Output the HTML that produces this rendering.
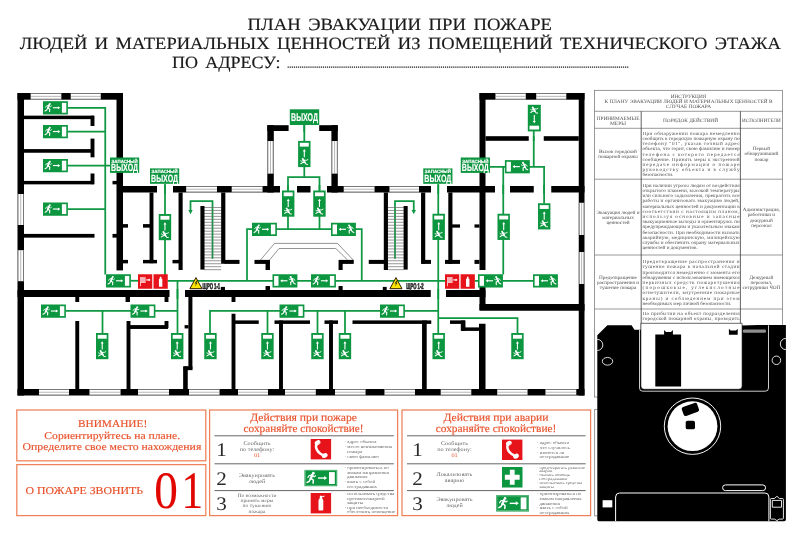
<!DOCTYPE html>
<html lang="ru"><head><meta charset="utf-8"><title>План эвакуации при пожаре</title>
<style>html,body{margin:0;padding:0;background:#fff}body{width:800px;height:533px;overflow:hidden}svg{display:block;text-rendering:geometricPrecision;will-change:transform}text{font-family:"Liberation Serif","DejaVu Serif",serif}.sb{font-family:"Liberation Sans","DejaVu Sans",sans-serif;font-weight:bold;fill:#fff;stroke:#fff;stroke-width:0.18px}.ss{font-family:"Liberation Sans","DejaVu Sans",sans-serif;font-weight:bold}.t{fill:#1a1a1a}.o{fill:#e8502a}.g{fill:#555}</style></head><body>
<svg width="800" height="533" viewBox="0 0 800 533">
<rect x="0" y="0" width="800" height="533" fill="#fff"/>
<g class="t" font-size="17.1" stroke="#1a1a1a" stroke-width="0.16" word-spacing="2.6">
<text x="247.6" y="30.4" textLength="304.4" lengthAdjust="spacingAndGlyphs">ПЛАН ЭВАКУАЦИИ ПРИ ПОЖАРЕ</text>
<text x="19.8" y="49.4" textLength="761" lengthAdjust="spacingAndGlyphs">ЛЮДЕЙ И МАТЕРИАЛЬНЫХ ЦЕННОСТЕЙ ИЗ ПОМЕЩЕНИЙ ТЕХНИЧЕСКОГО ЭТАЖА</text>
<text x="172" y="68.4" textLength="108.4" lengthAdjust="spacingAndGlyphs">ПО АДРЕСУ:</text>
</g>
<path d="M287.6,67.2 H628.4" stroke="#1a1a1a" stroke-width="1.3" stroke-dasharray="1.22 0.85" fill="none"/>
<g id="plan">
<polyline points="67.75,107.8 105.25,107.8 105.25,274.5" fill="none" stroke="#0f9842" stroke-width="1.75"/>
<polyline points="67.75,131.5 105.25,131.5" fill="none" stroke="#0f9842" stroke-width="1.75"/>
<polyline points="67.75,165.5 110,165.5" fill="none" stroke="#0f9842" stroke-width="1.75"/>
<polyline points="67.75,209 105.25,209" fill="none" stroke="#0f9842" stroke-width="1.75"/>
<polyline points="165,183.75 165,280.75" fill="none" stroke="#0f9842" stroke-width="1.75"/>
<polyline points="130.75,280.75 138,280.75" fill="none" stroke="#0f9842" stroke-width="1.75"/>
<polyline points="167.5,280.75 445,280.75" fill="none" stroke="#0f9842" stroke-width="1.75"/>
<polyline points="475,280.75 533,280.75" fill="none" stroke="#0f9842" stroke-width="1.75"/>
<polyline points="177.5,280.75 177.5,333" fill="none" stroke="#0f9842" stroke-width="1.75"/>
<polyline points="65.75,310.75 177.5,310.75" fill="none" stroke="#0f9842" stroke-width="1.75"/>
<polyline points="102.5,310.75 102.5,333" fill="none" stroke="#0f9842" stroke-width="1.75"/>
<polyline points="304.3,124 304.3,177" fill="none" stroke="#0f9842" stroke-width="1.75"/>
<polyline points="288,190.5 288,177 319.5,177 319.5,190.5" fill="none" stroke="#0f9842" stroke-width="1.75"/>
<polyline points="288,216 288,229" fill="none" stroke="#0f9842" stroke-width="1.75"/>
<polyline points="319.5,216 319.5,229" fill="none" stroke="#0f9842" stroke-width="1.75"/>
<polyline points="247,280.75 247,229 361.75,229 361.75,280.75" fill="none" stroke="#0f9842" stroke-width="1.75"/>
<polyline points="210,333 210,310.75 438.25,310.75" fill="none" stroke="#0f9842" stroke-width="1.75"/>
<polyline points="267.5,310.75 267.5,333" fill="none" stroke="#0f9842" stroke-width="1.75"/>
<polyline points="317.5,310.75 317.5,333" fill="none" stroke="#0f9842" stroke-width="1.75"/>
<polyline points="345,310.75 345,333" fill="none" stroke="#0f9842" stroke-width="1.75"/>
<polyline points="438.25,183.75 438.25,333" fill="none" stroke="#0f9842" stroke-width="1.75"/>
<polyline points="438.25,318 517.5,318 517.5,333" fill="none" stroke="#0f9842" stroke-width="1.75"/>
<polyline points="533.75,131 533.75,166.75" fill="none" stroke="#0f9842" stroke-width="1.75"/>
<polyline points="489.5,166.75 544.1,166.75 544.1,203.5" fill="none" stroke="#0f9842" stroke-width="1.75"/>
<polyline points="503.25,166.75 503.25,274.5" fill="none" stroke="#0f9842" stroke-width="1.75"/>
<polyline points="212.5,258.75 212.5,201 190.5,201 190.5,210" fill="none" stroke="#0f9842" stroke-width="1.75"/>
<polyline points="395,258.75 395,201 413.75,201 413.75,210" fill="none" stroke="#0f9842" stroke-width="1.75"/>
<path d="M190.5,214.2 l-2.2,-4.2 h4.4z" fill="#0f9842"/>
<path d="M413.75,214.2 l-2.2,-4.2 h4.4z" fill="#0f9842"/>
<path d="M204,207.5 H221.2 M204,210.46 H221.2 M204,213.42 H221.2 M204,216.38 H221.2 M204,219.34 H221.2 M204,222.3 H221.2 M204,225.26 H221.2 M204,228.22 H221.2 M204,231.18 H221.2 M204,234.14 H221.2 M204,237.1 H221.2 M204,240.06 H221.2 M204,243.02 H221.2 M204,245.98 H221.2 M204,248.94 H221.2 M204,251.9 H221.2 M204,254.86 H221.2 M204,257.82 H221.2 M204,260.78 H221.2 M204,263.74 H221.2 M204,266.7 H221.2 M204,269.66 H221.2" stroke="#6a6a6a" stroke-width="0.7" fill="none"/>
<path d="M387.6,207.5 H403.9 M387.6,210.46 H403.9 M387.6,213.42 H403.9 M387.6,216.38 H403.9 M387.6,219.34 H403.9 M387.6,222.3 H403.9 M387.6,225.26 H403.9 M387.6,228.22 H403.9 M387.6,231.18 H403.9 M387.6,234.14 H403.9 M387.6,237.1 H403.9 M387.6,240.06 H403.9 M387.6,243.02 H403.9 M387.6,245.98 H403.9 M387.6,248.94 H403.9 M387.6,251.9 H403.9 M387.6,254.86 H403.9 M387.6,257.82 H403.9 M387.6,260.78 H403.9 M387.6,263.74 H403.9 M387.6,266.7 H403.9 M387.6,269.66 H403.9" stroke="#6a6a6a" stroke-width="0.7" fill="none"/>
<rect x="200.4" y="206" width="4.1" height="63.6" fill="#000"/>
<rect x="403.6" y="206" width="4.1" height="63.6" fill="#000"/>
<path d="M260.5,260 L274.5,243.4 H337.5 L353.2,260 M269.5,260 L279,248.5 H335.8 L347.6,260" stroke="#666" stroke-width="0.7" fill="none"/>
<rect x="17.5" y="93" width="105.5" height="6.7" fill="#000"/>
<rect x="17.5" y="93" width="6.5" height="302.5" fill="#000"/>
<rect x="116.5" y="93" width="6.5" height="177.4" fill="#000"/>
<rect x="24" y="115.65" width="70" height="3.5" fill="#000"/>
<rect x="90.55" y="115.75" width="3.9" height="10.25" fill="#000"/>
<rect x="24" y="149.1" width="70" height="3.65" fill="#000"/>
<rect x="90.55" y="138.6" width="3.9" height="18.7" fill="#000"/>
<rect x="24" y="180.9" width="70" height="3.45" fill="#000"/>
<rect x="90.55" y="173.5" width="3.9" height="10.7" fill="#000"/>
<rect x="112.5" y="180.9" width="4.5" height="3.45" fill="#000"/>
<rect x="24" y="233.9" width="70.5" height="3.75" fill="#000"/>
<rect x="112.5" y="233.9" width="4.5" height="3.75" fill="#000"/>
<rect x="123" y="224.1" width="5" height="3.55" fill="#000"/>
<rect x="123" y="259.9" width="5" height="3.45" fill="#000"/>
<rect x="123" y="186" width="34" height="6.5" fill="#000"/>
<rect x="173" y="186" width="107" height="6.5" fill="#000"/>
<rect x="297" y="186" width="13.5" height="6.5" fill="#000"/>
<rect x="327" y="186" width="104" height="6.5" fill="#000"/>
<rect x="447" y="186" width="48" height="6.5" fill="#000"/>
<rect x="510" y="186" width="23.75" height="6.5" fill="#000"/>
<rect x="551.25" y="186" width="33.25" height="6.5" fill="#000"/>
<rect x="267.3" y="125.2" width="21.3" height="5.8" fill="#000"/>
<rect x="267.3" y="125.2" width="6.5" height="67.3" fill="#000"/>
<rect x="319.2" y="125.2" width="18.6" height="5.8" fill="#000"/>
<rect x="331.4" y="125.2" width="6.4" height="67.3" fill="#000"/>
<rect x="149.55" y="192.5" width="3.9" height="70.7" fill="#000"/>
<rect x="143" y="224.1" width="7" height="3.55" fill="#000"/>
<rect x="143" y="259.9" width="14" height="3.45" fill="#000"/>
<rect x="178.55" y="192.5" width="4.1" height="77.5" fill="#000"/>
<rect x="172.5" y="259.9" width="6.5" height="3.45" fill="#000"/>
<rect x="221.15" y="192.5" width="4.2" height="71.25" fill="#000"/>
<rect x="224.5" y="259.9" width="15" height="4" fill="#000"/>
<rect x="254.5" y="259.9" width="15" height="4" fill="#000"/>
<rect x="265.55" y="260" width="4.4" height="10" fill="#000"/>
<rect x="339" y="259.9" width="14.75" height="4" fill="#000"/>
<rect x="338.55" y="260" width="4.1" height="10" fill="#000"/>
<rect x="368.75" y="259.9" width="18.75" height="4" fill="#000"/>
<rect x="383.8" y="192.5" width="4.15" height="77.5" fill="#000"/>
<rect x="421.05" y="192.5" width="4.2" height="71.25" fill="#000"/>
<rect x="421.5" y="259.9" width="9.5" height="4" fill="#000"/>
<rect x="448.3" y="192.5" width="4.15" height="71.25" fill="#000"/>
<rect x="452" y="224.4" width="8" height="3.25" fill="#000"/>
<rect x="445" y="259.9" width="15" height="4" fill="#000"/>
<rect x="479.5" y="93" width="6" height="177" fill="#000"/>
<rect x="474.5" y="224.4" width="5" height="3.25" fill="#000"/>
<rect x="474.5" y="259.9" width="5" height="4" fill="#000"/>
<rect x="17.5" y="290" width="152" height="7" fill="#000"/>
<rect x="185" y="290" width="245.75" height="7" fill="#000"/>
<rect x="446" y="290" width="39.5" height="7" fill="#000"/>
<rect x="220.8" y="286.9" width="4.15" height="3.75" fill="#000"/>
<rect x="265.55" y="286" width="4.4" height="4.5" fill="#000"/>
<rect x="338.55" y="286" width="4.1" height="4.5" fill="#000"/>
<rect x="382.8" y="286.9" width="3.9" height="3.75" fill="#000"/>
<rect x="75.3" y="297" width="3.9" height="5" fill="#000"/>
<rect x="125.55" y="297" width="4.4" height="5" fill="#000"/>
<rect x="164.55" y="297" width="3.9" height="5" fill="#000"/>
<rect x="231.55" y="297" width="3.9" height="5" fill="#000"/>
<rect x="479.5" y="287" width="6" height="23" fill="#000"/>
<rect x="479.5" y="304" width="105" height="6.75" fill="#000"/>
<rect x="75.3" y="321" width="3.9" height="68" fill="#000"/>
<rect x="126.55" y="321" width="3.9" height="68" fill="#000"/>
<rect x="130" y="325.1" width="38" height="3.85" fill="#000"/>
<rect x="164.55" y="321" width="3.9" height="7" fill="#000"/>
<rect x="188.4" y="297" width="4" height="72.5" fill="#000"/>
<rect x="183.6" y="366.3" width="8.8" height="3.85" fill="#000"/>
<rect x="183.15" y="366.4" width="4.6" height="22.6" fill="#000"/>
<rect x="184.6" y="325.1" width="3.9" height="3.35" fill="#000"/>
<rect x="231.55" y="313.75" width="3.9" height="75.25" fill="#000"/>
<rect x="235" y="320.4" width="23.75" height="3.5" fill="#000"/>
<rect x="279.05" y="320.5" width="3.9" height="68.5" fill="#000"/>
<rect x="274.5" y="320.4" width="35.5" height="3.5" fill="#000"/>
<rect x="329.05" y="320.5" width="3.9" height="68.5" fill="#000"/>
<rect x="324.5" y="320.4" width="13.5" height="3.5" fill="#000"/>
<rect x="352.5" y="320.4" width="78.75" height="3.5" fill="#000"/>
<rect x="422.05" y="320.5" width="4.65" height="68.5" fill="#000"/>
<rect x="450" y="320.4" width="15" height="3.5" fill="#000"/>
<rect x="460.8" y="320.5" width="4.65" height="10.25" fill="#000"/>
<rect x="461.25" y="327.4" width="23.75" height="3.5" fill="#000"/>
<rect x="479" y="323.75" width="6.5" height="65.25" fill="#000"/>
<rect x="479.5" y="93" width="105" height="6.7" fill="#000"/>
<rect x="578.75" y="93" width="5.75" height="302.5" fill="#000"/>
<rect x="485.5" y="136.2" width="43.25" height="4.6" fill="#000"/>
<rect x="543.75" y="136.2" width="35" height="4.6" fill="#000"/>
<rect x="17.5" y="389" width="567" height="6.5" fill="#000"/>
<rect x="30.7" y="93" width="30.6" height="6.7" fill="#fff"/>
<polyline points="30.7,93.5 61.3,93.5" fill="none" stroke="#555" stroke-width="0.8"/>
<polyline points="30.7,99.2 61.3,99.2" fill="none" stroke="#555" stroke-width="0.8"/>
<polyline points="30.7,96.35 61.3,96.35" fill="none" stroke="#999" stroke-width="0.7"/>
<rect x="70.75" y="93" width="30" height="6.7" fill="#fff"/>
<polyline points="70.75,93.5 100.75,93.5" fill="none" stroke="#555" stroke-width="0.8"/>
<polyline points="70.75,99.2 100.75,99.2" fill="none" stroke="#555" stroke-width="0.8"/>
<polyline points="70.75,96.35 100.75,96.35" fill="none" stroke="#999" stroke-width="0.7"/>
<rect x="495.5" y="93" width="30.25" height="6.7" fill="#fff"/>
<polyline points="495.5,93.5 525.75,93.5" fill="none" stroke="#555" stroke-width="0.8"/>
<polyline points="495.5,99.2 525.75,99.2" fill="none" stroke="#555" stroke-width="0.8"/>
<polyline points="495.5,96.35 525.75,96.35" fill="none" stroke="#999" stroke-width="0.7"/>
<rect x="536.25" y="93" width="30" height="6.7" fill="#fff"/>
<polyline points="536.25,93.5 566.25,93.5" fill="none" stroke="#555" stroke-width="0.8"/>
<polyline points="536.25,99.2 566.25,99.2" fill="none" stroke="#555" stroke-width="0.8"/>
<polyline points="536.25,96.35 566.25,96.35" fill="none" stroke="#999" stroke-width="0.7"/>
<rect x="186.2" y="186" width="30.8" height="6.5" fill="#fff"/>
<polyline points="186.2,186.5 217,186.5" fill="none" stroke="#555" stroke-width="0.8"/>
<polyline points="186.2,192 217,192" fill="none" stroke="#555" stroke-width="0.8"/>
<polyline points="186.2,189.25 217,189.25" fill="none" stroke="#999" stroke-width="0.7"/>
<rect x="231.75" y="186" width="30.75" height="6.5" fill="#fff"/>
<polyline points="231.75,186.5 262.5,186.5" fill="none" stroke="#555" stroke-width="0.8"/>
<polyline points="231.75,192 262.5,192" fill="none" stroke="#555" stroke-width="0.8"/>
<polyline points="231.75,189.25 262.5,189.25" fill="none" stroke="#999" stroke-width="0.7"/>
<rect x="343.75" y="186" width="30.75" height="6.5" fill="#fff"/>
<polyline points="343.75,186.5 374.5,186.5" fill="none" stroke="#555" stroke-width="0.8"/>
<polyline points="343.75,192 374.5,192" fill="none" stroke="#555" stroke-width="0.8"/>
<polyline points="343.75,189.25 374.5,189.25" fill="none" stroke="#999" stroke-width="0.7"/>
<rect x="389.5" y="186" width="29.5" height="6.5" fill="#fff"/>
<polyline points="389.5,186.5 419,186.5" fill="none" stroke="#555" stroke-width="0.8"/>
<polyline points="389.5,192 419,192" fill="none" stroke="#555" stroke-width="0.8"/>
<polyline points="389.5,189.25 419,189.25" fill="none" stroke="#999" stroke-width="0.7"/>
<rect x="39" y="389" width="30" height="6.5" fill="#fff"/>
<polyline points="39,389.5 69,389.5" fill="none" stroke="#555" stroke-width="0.8"/>
<polyline points="39,395 69,395" fill="none" stroke="#555" stroke-width="0.8"/>
<polyline points="39,392.25 69,392.25" fill="none" stroke="#999" stroke-width="0.7"/>
<rect x="89.5" y="389" width="31" height="6.5" fill="#fff"/>
<polyline points="89.5,389.5 120.5,389.5" fill="none" stroke="#555" stroke-width="0.8"/>
<polyline points="89.5,395 120.5,395" fill="none" stroke="#555" stroke-width="0.8"/>
<polyline points="89.5,392.25 120.5,392.25" fill="none" stroke="#999" stroke-width="0.7"/>
<rect x="138" y="389" width="31" height="6.5" fill="#fff"/>
<polyline points="138,389.5 169,389.5" fill="none" stroke="#555" stroke-width="0.8"/>
<polyline points="138,395 169,395" fill="none" stroke="#555" stroke-width="0.8"/>
<polyline points="138,392.25 169,392.25" fill="none" stroke="#999" stroke-width="0.7"/>
<rect x="189" y="389" width="30.5" height="6.5" fill="#fff"/>
<polyline points="189,389.5 219.5,389.5" fill="none" stroke="#555" stroke-width="0.8"/>
<polyline points="189,395 219.5,395" fill="none" stroke="#555" stroke-width="0.8"/>
<polyline points="189,392.25 219.5,392.25" fill="none" stroke="#999" stroke-width="0.7"/>
<rect x="238" y="389" width="30" height="6.5" fill="#fff"/>
<polyline points="238,389.5 268,389.5" fill="none" stroke="#555" stroke-width="0.8"/>
<polyline points="238,395 268,395" fill="none" stroke="#555" stroke-width="0.8"/>
<polyline points="238,392.25 268,392.25" fill="none" stroke="#999" stroke-width="0.7"/>
<rect x="285" y="389" width="30.75" height="6.5" fill="#fff"/>
<polyline points="285,389.5 315.75,389.5" fill="none" stroke="#555" stroke-width="0.8"/>
<polyline points="285,395 315.75,395" fill="none" stroke="#555" stroke-width="0.8"/>
<polyline points="285,392.25 315.75,392.25" fill="none" stroke="#999" stroke-width="0.7"/>
<rect x="335" y="389" width="30.5" height="6.5" fill="#fff"/>
<polyline points="335,389.5 365.5,389.5" fill="none" stroke="#555" stroke-width="0.8"/>
<polyline points="335,395 365.5,395" fill="none" stroke="#555" stroke-width="0.8"/>
<polyline points="335,392.25 365.5,392.25" fill="none" stroke="#999" stroke-width="0.7"/>
<rect x="384.5" y="389" width="30.5" height="6.5" fill="#fff"/>
<polyline points="384.5,389.5 415,389.5" fill="none" stroke="#555" stroke-width="0.8"/>
<polyline points="384.5,395 415,395" fill="none" stroke="#555" stroke-width="0.8"/>
<polyline points="384.5,392.25 415,392.25" fill="none" stroke="#999" stroke-width="0.7"/>
<rect x="440.75" y="389" width="30.5" height="6.5" fill="#fff"/>
<polyline points="440.75,389.5 471.25,389.5" fill="none" stroke="#555" stroke-width="0.8"/>
<polyline points="440.75,395 471.25,395" fill="none" stroke="#555" stroke-width="0.8"/>
<polyline points="440.75,392.25 471.25,392.25" fill="none" stroke="#999" stroke-width="0.7"/>
<rect x="497.25" y="389" width="30.25" height="6.5" fill="#fff"/>
<polyline points="497.25,389.5 527.5,389.5" fill="none" stroke="#555" stroke-width="0.8"/>
<polyline points="497.25,395 527.5,395" fill="none" stroke="#555" stroke-width="0.8"/>
<polyline points="497.25,392.25 527.5,392.25" fill="none" stroke="#999" stroke-width="0.7"/>
<rect x="545.5" y="389" width="30.75" height="6.5" fill="#fff"/>
<polyline points="545.5,389.5 576.25,389.5" fill="none" stroke="#555" stroke-width="0.8"/>
<polyline points="545.5,395 576.25,395" fill="none" stroke="#555" stroke-width="0.8"/>
<polyline points="545.5,392.25 576.25,392.25" fill="none" stroke="#999" stroke-width="0.7"/>
<rect x="17.5" y="194" width="6.5" height="31" fill="#fff"/>
<polyline points="18,194 18,225" fill="none" stroke="#555" stroke-width="0.8"/>
<polyline points="23.5,194 23.5,225" fill="none" stroke="#555" stroke-width="0.8"/>
<polyline points="20.75,194 20.75,225" fill="none" stroke="#999" stroke-width="0.7"/>
<rect x="17.5" y="250.2" width="6.5" height="31" fill="#fff"/>
<polyline points="18,250.2 18,281.2" fill="none" stroke="#555" stroke-width="0.8"/>
<polyline points="23.5,250.2 23.5,281.2" fill="none" stroke="#555" stroke-width="0.8"/>
<polyline points="20.75,250.2 20.75,281.2" fill="none" stroke="#999" stroke-width="0.7"/>
<rect x="578.75" y="202.8" width="5.75" height="32.2" fill="#fff"/>
<polyline points="579.25,202.8 579.25,235" fill="none" stroke="#555" stroke-width="0.8"/>
<polyline points="584,202.8 584,235" fill="none" stroke="#555" stroke-width="0.8"/>
<polyline points="581.62,202.8 581.62,235" fill="none" stroke="#999" stroke-width="0.7"/>
<rect x="578.75" y="252" width="5.75" height="32" fill="#fff"/>
<polyline points="579.25,252 579.25,284" fill="none" stroke="#555" stroke-width="0.8"/>
<polyline points="584,252 584,284" fill="none" stroke="#555" stroke-width="0.8"/>
<polyline points="581.62,252 581.62,284" fill="none" stroke="#999" stroke-width="0.7"/>
<rect x="267.3" y="141" width="6.4" height="32.6" fill="#fff"/>
<polyline points="267.8,141 267.8,173.6" fill="none" stroke="#555" stroke-width="0.8"/>
<polyline points="273.2,141 273.2,173.6" fill="none" stroke="#555" stroke-width="0.8"/>
<polyline points="270.5,141 270.5,173.6" fill="none" stroke="#999" stroke-width="0.7"/>
<rect x="331.4" y="141" width="6.4" height="32.6" fill="#fff"/>
<polyline points="331.9,141 331.9,173.6" fill="none" stroke="#555" stroke-width="0.8"/>
<polyline points="337.3,141 337.3,173.6" fill="none" stroke="#555" stroke-width="0.8"/>
<polyline points="334.6,141 334.6,173.6" fill="none" stroke="#999" stroke-width="0.7"/>
<polyline points="165,185 165,194" fill="none" stroke="#0f9842" stroke-width="1.75"/>
<polyline points="304.25,123.75 304.25,132" fill="none" stroke="#0f9842" stroke-width="1.75"/>
<polyline points="288,185 288,194" fill="none" stroke="#0f9842" stroke-width="1.75"/>
<polyline points="319.5,185 319.5,194" fill="none" stroke="#0f9842" stroke-width="1.75"/>
<polyline points="438.25,185 438.25,194" fill="none" stroke="#0f9842" stroke-width="1.75"/>
<polyline points="503.25,185 503.25,194" fill="none" stroke="#0f9842" stroke-width="1.75"/>
<polyline points="544.1,185 544.1,194" fill="none" stroke="#0f9842" stroke-width="1.75"/>
<polyline points="177.5,289 177.5,299" fill="none" stroke="#0f9842" stroke-width="1.75"/>
<polyline points="438.25,289 438.25,299" fill="none" stroke="#0f9842" stroke-width="1.75"/>
<polyline points="533.75,136 533.75,141" fill="none" stroke="#0f9842" stroke-width="1.75"/>
<g>
<rect x="43" y="101.2" width="24.9" height="13.25" fill="#0c9640"/>
<rect x="61.9" y="102.9" width="4.4" height="9.85" fill="#fff"/>
<g transform="translate(48.3,107.53) scale(0.98,0.98)" fill="none" stroke="#fff" stroke-linecap="round" stroke-linejoin="round">
<circle cx="1.5" cy="-3.6" r="1.05" fill="#fff" stroke="none"/>
<path d="M0.7,-2.3 L-0.5,0.6" stroke-width="1.9"/>
<path d="M0.3,-2.2 L-1.8,-1.7 L-2.7,-0.3" stroke-width="0.9"/>
<path d="M0.7,-2.0 L2.2,-0.9 L3.2,-1.6" stroke-width="0.9"/>
<path d="M-0.3,0.5 L1.5,1.7 L1.3,4.1" stroke-width="1.15"/>
<path d="M-0.7,0.6 L-1.6,2.6 L-3.3,3.5" stroke-width="1.15"/>
</g>
<path d="M52.9,107.73 H59" stroke="#fff" stroke-width="1.15" fill="none"/>
<path d="M60.2,107.73 l-2.3,-1.6 v3.2z" fill="#fff"/>
</g>
<g>
<rect x="43" y="125" width="24.9" height="13.25" fill="#0c9640"/>
<rect x="61.9" y="126.7" width="4.4" height="9.85" fill="#fff"/>
<g transform="translate(48.3,131.32) scale(0.98,0.98)" fill="none" stroke="#fff" stroke-linecap="round" stroke-linejoin="round">
<circle cx="1.5" cy="-3.6" r="1.05" fill="#fff" stroke="none"/>
<path d="M0.7,-2.3 L-0.5,0.6" stroke-width="1.9"/>
<path d="M0.3,-2.2 L-1.8,-1.7 L-2.7,-0.3" stroke-width="0.9"/>
<path d="M0.7,-2.0 L2.2,-0.9 L3.2,-1.6" stroke-width="0.9"/>
<path d="M-0.3,0.5 L1.5,1.7 L1.3,4.1" stroke-width="1.15"/>
<path d="M-0.7,0.6 L-1.6,2.6 L-3.3,3.5" stroke-width="1.15"/>
</g>
<path d="M52.9,131.53 H59" stroke="#fff" stroke-width="1.15" fill="none"/>
<path d="M60.2,131.53 l-2.3,-1.6 v3.2z" fill="#fff"/>
</g>
<g>
<rect x="43" y="159" width="24.9" height="13.25" fill="#0c9640"/>
<rect x="61.9" y="160.7" width="4.4" height="9.85" fill="#fff"/>
<g transform="translate(48.3,165.32) scale(0.98,0.98)" fill="none" stroke="#fff" stroke-linecap="round" stroke-linejoin="round">
<circle cx="1.5" cy="-3.6" r="1.05" fill="#fff" stroke="none"/>
<path d="M0.7,-2.3 L-0.5,0.6" stroke-width="1.9"/>
<path d="M0.3,-2.2 L-1.8,-1.7 L-2.7,-0.3" stroke-width="0.9"/>
<path d="M0.7,-2.0 L2.2,-0.9 L3.2,-1.6" stroke-width="0.9"/>
<path d="M-0.3,0.5 L1.5,1.7 L1.3,4.1" stroke-width="1.15"/>
<path d="M-0.7,0.6 L-1.6,2.6 L-3.3,3.5" stroke-width="1.15"/>
</g>
<path d="M52.9,165.53 H59" stroke="#fff" stroke-width="1.15" fill="none"/>
<path d="M60.2,165.53 l-2.3,-1.6 v3.2z" fill="#fff"/>
</g>
<g>
<rect x="43" y="202.5" width="24.9" height="13.25" fill="#0c9640"/>
<rect x="61.9" y="204.2" width="4.4" height="9.85" fill="#fff"/>
<g transform="translate(48.3,208.82) scale(0.98,0.98)" fill="none" stroke="#fff" stroke-linecap="round" stroke-linejoin="round">
<circle cx="1.5" cy="-3.6" r="1.05" fill="#fff" stroke="none"/>
<path d="M0.7,-2.3 L-0.5,0.6" stroke-width="1.9"/>
<path d="M0.3,-2.2 L-1.8,-1.7 L-2.7,-0.3" stroke-width="0.9"/>
<path d="M0.7,-2.0 L2.2,-0.9 L3.2,-1.6" stroke-width="0.9"/>
<path d="M-0.3,0.5 L1.5,1.7 L1.3,4.1" stroke-width="1.15"/>
<path d="M-0.7,0.6 L-1.6,2.6 L-3.3,3.5" stroke-width="1.15"/>
</g>
<path d="M52.9,209.03 H59" stroke="#fff" stroke-width="1.15" fill="none"/>
<path d="M60.2,209.03 l-2.3,-1.6 v3.2z" fill="#fff"/>
</g>
<g>
<rect x="106" y="274.25" width="24.9" height="13.25" fill="#0c9640"/>
<rect x="124.9" y="275.95" width="4.4" height="9.85" fill="#fff"/>
<g transform="translate(111.3,280.57) scale(0.98,0.98)" fill="none" stroke="#fff" stroke-linecap="round" stroke-linejoin="round">
<circle cx="1.5" cy="-3.6" r="1.05" fill="#fff" stroke="none"/>
<path d="M0.7,-2.3 L-0.5,0.6" stroke-width="1.9"/>
<path d="M0.3,-2.2 L-1.8,-1.7 L-2.7,-0.3" stroke-width="0.9"/>
<path d="M0.7,-2.0 L2.2,-0.9 L3.2,-1.6" stroke-width="0.9"/>
<path d="M-0.3,0.5 L1.5,1.7 L1.3,4.1" stroke-width="1.15"/>
<path d="M-0.7,0.6 L-1.6,2.6 L-3.3,3.5" stroke-width="1.15"/>
</g>
<path d="M115.9,280.77 H122" stroke="#fff" stroke-width="1.15" fill="none"/>
<path d="M123.2,280.77 l-2.3,-1.6 v3.2z" fill="#fff"/>
</g>
<g>
<rect x="41" y="304.5" width="24.9" height="13.25" fill="#0c9640"/>
<rect x="59.9" y="306.2" width="4.4" height="9.85" fill="#fff"/>
<g transform="translate(46.3,310.82) scale(0.98,0.98)" fill="none" stroke="#fff" stroke-linecap="round" stroke-linejoin="round">
<circle cx="1.5" cy="-3.6" r="1.05" fill="#fff" stroke="none"/>
<path d="M0.7,-2.3 L-0.5,0.6" stroke-width="1.9"/>
<path d="M0.3,-2.2 L-1.8,-1.7 L-2.7,-0.3" stroke-width="0.9"/>
<path d="M0.7,-2.0 L2.2,-0.9 L3.2,-1.6" stroke-width="0.9"/>
<path d="M-0.3,0.5 L1.5,1.7 L1.3,4.1" stroke-width="1.15"/>
<path d="M-0.7,0.6 L-1.6,2.6 L-3.3,3.5" stroke-width="1.15"/>
</g>
<path d="M50.9,311.02 H57" stroke="#fff" stroke-width="1.15" fill="none"/>
<path d="M58.2,311.02 l-2.3,-1.6 v3.2z" fill="#fff"/>
</g>
<g>
<rect x="130.5" y="304.5" width="24.9" height="13.25" fill="#0c9640"/>
<rect x="149.4" y="306.2" width="4.4" height="9.85" fill="#fff"/>
<g transform="translate(135.8,310.82) scale(0.98,0.98)" fill="none" stroke="#fff" stroke-linecap="round" stroke-linejoin="round">
<circle cx="1.5" cy="-3.6" r="1.05" fill="#fff" stroke="none"/>
<path d="M0.7,-2.3 L-0.5,0.6" stroke-width="1.9"/>
<path d="M0.3,-2.2 L-1.8,-1.7 L-2.7,-0.3" stroke-width="0.9"/>
<path d="M0.7,-2.0 L2.2,-0.9 L3.2,-1.6" stroke-width="0.9"/>
<path d="M-0.3,0.5 L1.5,1.7 L1.3,4.1" stroke-width="1.15"/>
<path d="M-0.7,0.6 L-1.6,2.6 L-3.3,3.5" stroke-width="1.15"/>
</g>
<path d="M140.4,311.02 H146.5" stroke="#fff" stroke-width="1.15" fill="none"/>
<path d="M147.7,311.02 l-2.3,-1.6 v3.2z" fill="#fff"/>
</g>
<g>
<rect x="252" y="222.75" width="24.9" height="13.25" fill="#0c9640"/>
<rect x="270.9" y="224.45" width="4.4" height="9.85" fill="#fff"/>
<g transform="translate(257.3,229.07) scale(0.98,0.98)" fill="none" stroke="#fff" stroke-linecap="round" stroke-linejoin="round">
<circle cx="1.5" cy="-3.6" r="1.05" fill="#fff" stroke="none"/>
<path d="M0.7,-2.3 L-0.5,0.6" stroke-width="1.9"/>
<path d="M0.3,-2.2 L-1.8,-1.7 L-2.7,-0.3" stroke-width="0.9"/>
<path d="M0.7,-2.0 L2.2,-0.9 L3.2,-1.6" stroke-width="0.9"/>
<path d="M-0.3,0.5 L1.5,1.7 L1.3,4.1" stroke-width="1.15"/>
<path d="M-0.7,0.6 L-1.6,2.6 L-3.3,3.5" stroke-width="1.15"/>
</g>
<path d="M261.9,229.28 H268" stroke="#fff" stroke-width="1.15" fill="none"/>
<path d="M269.2,229.28 l-2.3,-1.6 v3.2z" fill="#fff"/>
</g>
<g>
<rect x="311" y="274.25" width="24.9" height="13.25" fill="#0c9640"/>
<rect x="329.9" y="275.95" width="4.4" height="9.85" fill="#fff"/>
<g transform="translate(316.3,280.57) scale(0.98,0.98)" fill="none" stroke="#fff" stroke-linecap="round" stroke-linejoin="round">
<circle cx="1.5" cy="-3.6" r="1.05" fill="#fff" stroke="none"/>
<path d="M0.7,-2.3 L-0.5,0.6" stroke-width="1.9"/>
<path d="M0.3,-2.2 L-1.8,-1.7 L-2.7,-0.3" stroke-width="0.9"/>
<path d="M0.7,-2.0 L2.2,-0.9 L3.2,-1.6" stroke-width="0.9"/>
<path d="M-0.3,0.5 L1.5,1.7 L1.3,4.1" stroke-width="1.15"/>
<path d="M-0.7,0.6 L-1.6,2.6 L-3.3,3.5" stroke-width="1.15"/>
</g>
<path d="M320.9,280.77 H327" stroke="#fff" stroke-width="1.15" fill="none"/>
<path d="M328.2,280.77 l-2.3,-1.6 v3.2z" fill="#fff"/>
</g>
<g>
<rect x="279.5" y="304.5" width="24.9" height="13.25" fill="#0c9640"/>
<rect x="298.4" y="306.2" width="4.4" height="9.85" fill="#fff"/>
<g transform="translate(284.8,310.82) scale(0.98,0.98)" fill="none" stroke="#fff" stroke-linecap="round" stroke-linejoin="round">
<circle cx="1.5" cy="-3.6" r="1.05" fill="#fff" stroke="none"/>
<path d="M0.7,-2.3 L-0.5,0.6" stroke-width="1.9"/>
<path d="M0.3,-2.2 L-1.8,-1.7 L-2.7,-0.3" stroke-width="0.9"/>
<path d="M0.7,-2.0 L2.2,-0.9 L3.2,-1.6" stroke-width="0.9"/>
<path d="M-0.3,0.5 L1.5,1.7 L1.3,4.1" stroke-width="1.15"/>
<path d="M-0.7,0.6 L-1.6,2.6 L-3.3,3.5" stroke-width="1.15"/>
</g>
<path d="M289.4,311.02 H295.5" stroke="#fff" stroke-width="1.15" fill="none"/>
<path d="M296.7,311.02 l-2.3,-1.6 v3.2z" fill="#fff"/>
</g>
<g>
<rect x="380" y="304.5" width="24.9" height="13.25" fill="#0c9640"/>
<rect x="398.9" y="306.2" width="4.4" height="9.85" fill="#fff"/>
<g transform="translate(385.3,310.82) scale(0.98,0.98)" fill="none" stroke="#fff" stroke-linecap="round" stroke-linejoin="round">
<circle cx="1.5" cy="-3.6" r="1.05" fill="#fff" stroke="none"/>
<path d="M0.7,-2.3 L-0.5,0.6" stroke-width="1.9"/>
<path d="M0.3,-2.2 L-1.8,-1.7 L-2.7,-0.3" stroke-width="0.9"/>
<path d="M0.7,-2.0 L2.2,-0.9 L3.2,-1.6" stroke-width="0.9"/>
<path d="M-0.3,0.5 L1.5,1.7 L1.3,4.1" stroke-width="1.15"/>
<path d="M-0.7,0.6 L-1.6,2.6 L-3.3,3.5" stroke-width="1.15"/>
</g>
<path d="M389.9,311.02 H396" stroke="#fff" stroke-width="1.15" fill="none"/>
<path d="M397.2,311.02 l-2.3,-1.6 v3.2z" fill="#fff"/>
</g>
<g>
<rect x="331" y="222.75" width="24.9" height="13.25" fill="#0c9640"/>
<rect x="332.6" y="224.45" width="4.4" height="9.85" fill="#fff"/>
<g transform="translate(350.6,229.07) scale(-0.98,0.98)" fill="none" stroke="#fff" stroke-linecap="round" stroke-linejoin="round">
<circle cx="1.5" cy="-3.6" r="1.05" fill="#fff" stroke="none"/>
<path d="M0.7,-2.3 L-0.5,0.6" stroke-width="1.9"/>
<path d="M0.3,-2.2 L-1.8,-1.7 L-2.7,-0.3" stroke-width="0.9"/>
<path d="M0.7,-2.0 L2.2,-0.9 L3.2,-1.6" stroke-width="0.9"/>
<path d="M-0.3,0.5 L1.5,1.7 L1.3,4.1" stroke-width="1.15"/>
<path d="M-0.7,0.6 L-1.6,2.6 L-3.3,3.5" stroke-width="1.15"/>
</g>
<path d="M346,229.28 H339.9" stroke="#fff" stroke-width="1.15" fill="none"/>
<path d="M338.7,229.28 l2.3,-1.6 v3.2z" fill="#fff"/>
</g>
<g>
<rect x="272.5" y="274.25" width="24.9" height="13.25" fill="#0c9640"/>
<rect x="274.1" y="275.95" width="4.4" height="9.85" fill="#fff"/>
<g transform="translate(292.1,280.57) scale(-0.98,0.98)" fill="none" stroke="#fff" stroke-linecap="round" stroke-linejoin="round">
<circle cx="1.5" cy="-3.6" r="1.05" fill="#fff" stroke="none"/>
<path d="M0.7,-2.3 L-0.5,0.6" stroke-width="1.9"/>
<path d="M0.3,-2.2 L-1.8,-1.7 L-2.7,-0.3" stroke-width="0.9"/>
<path d="M0.7,-2.0 L2.2,-0.9 L3.2,-1.6" stroke-width="0.9"/>
<path d="M-0.3,0.5 L1.5,1.7 L1.3,4.1" stroke-width="1.15"/>
<path d="M-0.7,0.6 L-1.6,2.6 L-3.3,3.5" stroke-width="1.15"/>
</g>
<path d="M287.5,280.77 H281.4" stroke="#fff" stroke-width="1.15" fill="none"/>
<path d="M280.2,280.77 l2.3,-1.6 v3.2z" fill="#fff"/>
</g>
<g>
<rect x="504.9" y="160.1" width="24.9" height="13.25" fill="#0c9640"/>
<rect x="506.5" y="161.8" width="4.4" height="9.85" fill="#fff"/>
<g transform="translate(524.5,166.42) scale(-0.98,0.98)" fill="none" stroke="#fff" stroke-linecap="round" stroke-linejoin="round">
<circle cx="1.5" cy="-3.6" r="1.05" fill="#fff" stroke="none"/>
<path d="M0.7,-2.3 L-0.5,0.6" stroke-width="1.9"/>
<path d="M0.3,-2.2 L-1.8,-1.7 L-2.7,-0.3" stroke-width="0.9"/>
<path d="M0.7,-2.0 L2.2,-0.9 L3.2,-1.6" stroke-width="0.9"/>
<path d="M-0.3,0.5 L1.5,1.7 L1.3,4.1" stroke-width="1.15"/>
<path d="M-0.7,0.6 L-1.6,2.6 L-3.3,3.5" stroke-width="1.15"/>
</g>
<path d="M519.9,166.62 H513.8" stroke="#fff" stroke-width="1.15" fill="none"/>
<path d="M512.6,166.62 l2.3,-1.6 v3.2z" fill="#fff"/>
</g>
<g>
<rect x="478" y="274.25" width="24.9" height="13.25" fill="#0c9640"/>
<rect x="479.6" y="275.95" width="4.4" height="9.85" fill="#fff"/>
<g transform="translate(497.6,280.57) scale(-0.98,0.98)" fill="none" stroke="#fff" stroke-linecap="round" stroke-linejoin="round">
<circle cx="1.5" cy="-3.6" r="1.05" fill="#fff" stroke="none"/>
<path d="M0.7,-2.3 L-0.5,0.6" stroke-width="1.9"/>
<path d="M0.3,-2.2 L-1.8,-1.7 L-2.7,-0.3" stroke-width="0.9"/>
<path d="M0.7,-2.0 L2.2,-0.9 L3.2,-1.6" stroke-width="0.9"/>
<path d="M-0.3,0.5 L1.5,1.7 L1.3,4.1" stroke-width="1.15"/>
<path d="M-0.7,0.6 L-1.6,2.6 L-3.3,3.5" stroke-width="1.15"/>
</g>
<path d="M493,280.77 H486.9" stroke="#fff" stroke-width="1.15" fill="none"/>
<path d="M485.7,280.77 l2.3,-1.6 v3.2z" fill="#fff"/>
</g>
<g>
<rect x="533" y="274.25" width="24.9" height="13.25" fill="#0c9640"/>
<rect x="534.6" y="275.95" width="4.4" height="9.85" fill="#fff"/>
<g transform="translate(552.6,280.57) scale(-0.98,0.98)" fill="none" stroke="#fff" stroke-linecap="round" stroke-linejoin="round">
<circle cx="1.5" cy="-3.6" r="1.05" fill="#fff" stroke="none"/>
<path d="M0.7,-2.3 L-0.5,0.6" stroke-width="1.9"/>
<path d="M0.3,-2.2 L-1.8,-1.7 L-2.7,-0.3" stroke-width="0.9"/>
<path d="M0.7,-2.0 L2.2,-0.9 L3.2,-1.6" stroke-width="0.9"/>
<path d="M-0.3,0.5 L1.5,1.7 L1.3,4.1" stroke-width="1.15"/>
<path d="M-0.7,0.6 L-1.6,2.6 L-3.3,3.5" stroke-width="1.15"/>
</g>
<path d="M548,280.77 H541.9" stroke="#fff" stroke-width="1.15" fill="none"/>
<path d="M540.7,280.77 l2.3,-1.6 v3.2z" fill="#fff"/>
</g>
<g>
<rect x="158.75" y="214" width="12.4" height="26.2" fill="#0c9640"/>
<rect x="160.45" y="215.9" width="9" height="3.8" fill="#fff"/>
<path d="M164.95,230.4 V223.4" stroke="#fff" stroke-width="1.1" fill="none"/>
<path d="M164.95,222.2 l-1.5,2.3 h3z" fill="#fff"/>
<g transform="translate(164.95,234.8) scale(-0.92,0.92) rotate(-10)" fill="none" stroke="#fff" stroke-linecap="round" stroke-linejoin="round">
<circle cx="2.2" cy="-2.7" r="1.1" fill="#fff" stroke="none"/>
<path d="M1.2,-1.6 L-0.6,0.6" stroke-width="2.0"/>
<path d="M0.6,-1.5 L-2.0,-1.9 L-3.4,-2.9" stroke-width="0.95"/>
<path d="M1.0,-1.2 L2.8,0.1 L4.0,-0.3" stroke-width="0.95"/>
<path d="M-0.4,0.5 L1.7,1.3 L3.4,2.9" stroke-width="1.15"/>
<path d="M-0.8,0.6 L-2.2,2.2 L-4.0,2.3" stroke-width="1.15"/>
</g>
</g>
<g>
<rect x="96" y="333" width="12.4" height="26.2" fill="#0c9640"/>
<rect x="97.7" y="334.9" width="9" height="3.8" fill="#fff"/>
<path d="M102.2,349.4 V342.4" stroke="#fff" stroke-width="1.1" fill="none"/>
<path d="M102.2,341.2 l-1.5,2.3 h3z" fill="#fff"/>
<g transform="translate(102.2,353.8) scale(-0.92,0.92) rotate(-10)" fill="none" stroke="#fff" stroke-linecap="round" stroke-linejoin="round">
<circle cx="2.2" cy="-2.7" r="1.1" fill="#fff" stroke="none"/>
<path d="M1.2,-1.6 L-0.6,0.6" stroke-width="2.0"/>
<path d="M0.6,-1.5 L-2.0,-1.9 L-3.4,-2.9" stroke-width="0.95"/>
<path d="M1.0,-1.2 L2.8,0.1 L4.0,-0.3" stroke-width="0.95"/>
<path d="M-0.4,0.5 L1.7,1.3 L3.4,2.9" stroke-width="1.15"/>
<path d="M-0.8,0.6 L-2.2,2.2 L-4.0,2.3" stroke-width="1.15"/>
</g>
</g>
<g>
<rect x="171" y="333" width="12.4" height="26.2" fill="#0c9640"/>
<rect x="172.7" y="334.9" width="9" height="3.8" fill="#fff"/>
<path d="M177.2,349.4 V342.4" stroke="#fff" stroke-width="1.1" fill="none"/>
<path d="M177.2,341.2 l-1.5,2.3 h3z" fill="#fff"/>
<g transform="translate(177.2,353.8) scale(-0.92,0.92) rotate(-10)" fill="none" stroke="#fff" stroke-linecap="round" stroke-linejoin="round">
<circle cx="2.2" cy="-2.7" r="1.1" fill="#fff" stroke="none"/>
<path d="M1.2,-1.6 L-0.6,0.6" stroke-width="2.0"/>
<path d="M0.6,-1.5 L-2.0,-1.9 L-3.4,-2.9" stroke-width="0.95"/>
<path d="M1.0,-1.2 L2.8,0.1 L4.0,-0.3" stroke-width="0.95"/>
<path d="M-0.4,0.5 L1.7,1.3 L3.4,2.9" stroke-width="1.15"/>
<path d="M-0.8,0.6 L-2.2,2.2 L-4.0,2.3" stroke-width="1.15"/>
</g>
</g>
<g>
<rect x="204.25" y="333" width="12.4" height="26.2" fill="#0c9640"/>
<rect x="205.95" y="334.9" width="9" height="3.8" fill="#fff"/>
<path d="M210.45,349.4 V342.4" stroke="#fff" stroke-width="1.1" fill="none"/>
<path d="M210.45,341.2 l-1.5,2.3 h3z" fill="#fff"/>
<g transform="translate(210.45,353.8) scale(-0.92,0.92) rotate(-10)" fill="none" stroke="#fff" stroke-linecap="round" stroke-linejoin="round">
<circle cx="2.2" cy="-2.7" r="1.1" fill="#fff" stroke="none"/>
<path d="M1.2,-1.6 L-0.6,0.6" stroke-width="2.0"/>
<path d="M0.6,-1.5 L-2.0,-1.9 L-3.4,-2.9" stroke-width="0.95"/>
<path d="M1.0,-1.2 L2.8,0.1 L4.0,-0.3" stroke-width="0.95"/>
<path d="M-0.4,0.5 L1.7,1.3 L3.4,2.9" stroke-width="1.15"/>
<path d="M-0.8,0.6 L-2.2,2.2 L-4.0,2.3" stroke-width="1.15"/>
</g>
</g>
<g>
<rect x="261.25" y="333" width="12.4" height="26.2" fill="#0c9640"/>
<rect x="262.95" y="334.9" width="9" height="3.8" fill="#fff"/>
<path d="M267.45,349.4 V342.4" stroke="#fff" stroke-width="1.1" fill="none"/>
<path d="M267.45,341.2 l-1.5,2.3 h3z" fill="#fff"/>
<g transform="translate(267.45,353.8) scale(-0.92,0.92) rotate(-10)" fill="none" stroke="#fff" stroke-linecap="round" stroke-linejoin="round">
<circle cx="2.2" cy="-2.7" r="1.1" fill="#fff" stroke="none"/>
<path d="M1.2,-1.6 L-0.6,0.6" stroke-width="2.0"/>
<path d="M0.6,-1.5 L-2.0,-1.9 L-3.4,-2.9" stroke-width="0.95"/>
<path d="M1.0,-1.2 L2.8,0.1 L4.0,-0.3" stroke-width="0.95"/>
<path d="M-0.4,0.5 L1.7,1.3 L3.4,2.9" stroke-width="1.15"/>
<path d="M-0.8,0.6 L-2.2,2.2 L-4.0,2.3" stroke-width="1.15"/>
</g>
</g>
<g>
<rect x="311.25" y="333" width="12.4" height="26.2" fill="#0c9640"/>
<rect x="312.95" y="334.9" width="9" height="3.8" fill="#fff"/>
<path d="M317.45,349.4 V342.4" stroke="#fff" stroke-width="1.1" fill="none"/>
<path d="M317.45,341.2 l-1.5,2.3 h3z" fill="#fff"/>
<g transform="translate(317.45,353.8) scale(-0.92,0.92) rotate(-10)" fill="none" stroke="#fff" stroke-linecap="round" stroke-linejoin="round">
<circle cx="2.2" cy="-2.7" r="1.1" fill="#fff" stroke="none"/>
<path d="M1.2,-1.6 L-0.6,0.6" stroke-width="2.0"/>
<path d="M0.6,-1.5 L-2.0,-1.9 L-3.4,-2.9" stroke-width="0.95"/>
<path d="M1.0,-1.2 L2.8,0.1 L4.0,-0.3" stroke-width="0.95"/>
<path d="M-0.4,0.5 L1.7,1.3 L3.4,2.9" stroke-width="1.15"/>
<path d="M-0.8,0.6 L-2.2,2.2 L-4.0,2.3" stroke-width="1.15"/>
</g>
</g>
<g>
<rect x="338.75" y="333" width="12.4" height="26.2" fill="#0c9640"/>
<rect x="340.45" y="334.9" width="9" height="3.8" fill="#fff"/>
<path d="M344.95,349.4 V342.4" stroke="#fff" stroke-width="1.1" fill="none"/>
<path d="M344.95,341.2 l-1.5,2.3 h3z" fill="#fff"/>
<g transform="translate(344.95,353.8) scale(-0.92,0.92) rotate(-10)" fill="none" stroke="#fff" stroke-linecap="round" stroke-linejoin="round">
<circle cx="2.2" cy="-2.7" r="1.1" fill="#fff" stroke="none"/>
<path d="M1.2,-1.6 L-0.6,0.6" stroke-width="2.0"/>
<path d="M0.6,-1.5 L-2.0,-1.9 L-3.4,-2.9" stroke-width="0.95"/>
<path d="M1.0,-1.2 L2.8,0.1 L4.0,-0.3" stroke-width="0.95"/>
<path d="M-0.4,0.5 L1.7,1.3 L3.4,2.9" stroke-width="1.15"/>
<path d="M-0.8,0.6 L-2.2,2.2 L-4.0,2.3" stroke-width="1.15"/>
</g>
</g>
<g>
<rect x="432.5" y="333" width="12.4" height="26.2" fill="#0c9640"/>
<rect x="434.2" y="334.9" width="9" height="3.8" fill="#fff"/>
<path d="M438.7,349.4 V342.4" stroke="#fff" stroke-width="1.1" fill="none"/>
<path d="M438.7,341.2 l-1.5,2.3 h3z" fill="#fff"/>
<g transform="translate(438.7,353.8) scale(-0.92,0.92) rotate(-10)" fill="none" stroke="#fff" stroke-linecap="round" stroke-linejoin="round">
<circle cx="2.2" cy="-2.7" r="1.1" fill="#fff" stroke="none"/>
<path d="M1.2,-1.6 L-0.6,0.6" stroke-width="2.0"/>
<path d="M0.6,-1.5 L-2.0,-1.9 L-3.4,-2.9" stroke-width="0.95"/>
<path d="M1.0,-1.2 L2.8,0.1 L4.0,-0.3" stroke-width="0.95"/>
<path d="M-0.4,0.5 L1.7,1.3 L3.4,2.9" stroke-width="1.15"/>
<path d="M-0.8,0.6 L-2.2,2.2 L-4.0,2.3" stroke-width="1.15"/>
</g>
</g>
<g>
<rect x="511.25" y="333" width="12.4" height="26.2" fill="#0c9640"/>
<rect x="512.95" y="334.9" width="9" height="3.8" fill="#fff"/>
<path d="M517.45,349.4 V342.4" stroke="#fff" stroke-width="1.1" fill="none"/>
<path d="M517.45,341.2 l-1.5,2.3 h3z" fill="#fff"/>
<g transform="translate(517.45,353.8) scale(-0.92,0.92) rotate(-10)" fill="none" stroke="#fff" stroke-linecap="round" stroke-linejoin="round">
<circle cx="2.2" cy="-2.7" r="1.1" fill="#fff" stroke="none"/>
<path d="M1.2,-1.6 L-0.6,0.6" stroke-width="2.0"/>
<path d="M0.6,-1.5 L-2.0,-1.9 L-3.4,-2.9" stroke-width="0.95"/>
<path d="M1.0,-1.2 L2.8,0.1 L4.0,-0.3" stroke-width="0.95"/>
<path d="M-0.4,0.5 L1.7,1.3 L3.4,2.9" stroke-width="1.15"/>
<path d="M-0.8,0.6 L-2.2,2.2 L-4.0,2.3" stroke-width="1.15"/>
</g>
</g>
<g>
<rect x="298.1" y="140.9" width="12.4" height="26.2" fill="#0c9640"/>
<rect x="299.8" y="142.8" width="9" height="3.8" fill="#fff"/>
<path d="M304.3,157.3 V150.3" stroke="#fff" stroke-width="1.1" fill="none"/>
<path d="M304.3,149.1 l-1.5,2.3 h3z" fill="#fff"/>
<g transform="translate(304.3,161.7) scale(-0.92,0.92) rotate(-10)" fill="none" stroke="#fff" stroke-linecap="round" stroke-linejoin="round">
<circle cx="2.2" cy="-2.7" r="1.1" fill="#fff" stroke="none"/>
<path d="M1.2,-1.6 L-0.6,0.6" stroke-width="2.0"/>
<path d="M0.6,-1.5 L-2.0,-1.9 L-3.4,-2.9" stroke-width="0.95"/>
<path d="M1.0,-1.2 L2.8,0.1 L4.0,-0.3" stroke-width="0.95"/>
<path d="M-0.4,0.5 L1.7,1.3 L3.4,2.9" stroke-width="1.15"/>
<path d="M-0.8,0.6 L-2.2,2.2 L-4.0,2.3" stroke-width="1.15"/>
</g>
</g>
<g>
<rect x="282" y="190.5" width="12.4" height="26.2" fill="#0c9640"/>
<rect x="283.7" y="192.4" width="9" height="3.8" fill="#fff"/>
<path d="M288.2,206.9 V199.9" stroke="#fff" stroke-width="1.1" fill="none"/>
<path d="M288.2,198.7 l-1.5,2.3 h3z" fill="#fff"/>
<g transform="translate(288.2,211.3) scale(-0.92,0.92) rotate(-10)" fill="none" stroke="#fff" stroke-linecap="round" stroke-linejoin="round">
<circle cx="2.2" cy="-2.7" r="1.1" fill="#fff" stroke="none"/>
<path d="M1.2,-1.6 L-0.6,0.6" stroke-width="2.0"/>
<path d="M0.6,-1.5 L-2.0,-1.9 L-3.4,-2.9" stroke-width="0.95"/>
<path d="M1.0,-1.2 L2.8,0.1 L4.0,-0.3" stroke-width="0.95"/>
<path d="M-0.4,0.5 L1.7,1.3 L3.4,2.9" stroke-width="1.15"/>
<path d="M-0.8,0.6 L-2.2,2.2 L-4.0,2.3" stroke-width="1.15"/>
</g>
</g>
<g>
<rect x="313.25" y="190.5" width="12.4" height="26.2" fill="#0c9640"/>
<rect x="314.95" y="192.4" width="9" height="3.8" fill="#fff"/>
<path d="M319.45,206.9 V199.9" stroke="#fff" stroke-width="1.1" fill="none"/>
<path d="M319.45,198.7 l-1.5,2.3 h3z" fill="#fff"/>
<g transform="translate(319.45,211.3) scale(-0.92,0.92) rotate(-10)" fill="none" stroke="#fff" stroke-linecap="round" stroke-linejoin="round">
<circle cx="2.2" cy="-2.7" r="1.1" fill="#fff" stroke="none"/>
<path d="M1.2,-1.6 L-0.6,0.6" stroke-width="2.0"/>
<path d="M0.6,-1.5 L-2.0,-1.9 L-3.4,-2.9" stroke-width="0.95"/>
<path d="M1.0,-1.2 L2.8,0.1 L4.0,-0.3" stroke-width="0.95"/>
<path d="M-0.4,0.5 L1.7,1.3 L3.4,2.9" stroke-width="1.15"/>
<path d="M-0.8,0.6 L-2.2,2.2 L-4.0,2.3" stroke-width="1.15"/>
</g>
</g>
<g>
<rect x="432.5" y="213.75" width="12.4" height="26.2" fill="#0c9640"/>
<rect x="434.2" y="215.65" width="9" height="3.8" fill="#fff"/>
<path d="M438.7,230.15 V223.15" stroke="#fff" stroke-width="1.1" fill="none"/>
<path d="M438.7,221.95 l-1.5,2.3 h3z" fill="#fff"/>
<g transform="translate(438.7,234.55) scale(-0.92,0.92) rotate(-10)" fill="none" stroke="#fff" stroke-linecap="round" stroke-linejoin="round">
<circle cx="2.2" cy="-2.7" r="1.1" fill="#fff" stroke="none"/>
<path d="M1.2,-1.6 L-0.6,0.6" stroke-width="2.0"/>
<path d="M0.6,-1.5 L-2.0,-1.9 L-3.4,-2.9" stroke-width="0.95"/>
<path d="M1.0,-1.2 L2.8,0.1 L4.0,-0.3" stroke-width="0.95"/>
<path d="M-0.4,0.5 L1.7,1.3 L3.4,2.9" stroke-width="1.15"/>
<path d="M-0.8,0.6 L-2.2,2.2 L-4.0,2.3" stroke-width="1.15"/>
</g>
</g>
<g>
<rect x="497.5" y="213.75" width="12.4" height="26.2" fill="#0c9640"/>
<rect x="499.2" y="215.65" width="9" height="3.8" fill="#fff"/>
<path d="M503.7,230.15 V223.15" stroke="#fff" stroke-width="1.1" fill="none"/>
<path d="M503.7,221.95 l-1.5,2.3 h3z" fill="#fff"/>
<g transform="translate(503.7,234.55) scale(-0.92,0.92) rotate(-10)" fill="none" stroke="#fff" stroke-linecap="round" stroke-linejoin="round">
<circle cx="2.2" cy="-2.7" r="1.1" fill="#fff" stroke="none"/>
<path d="M1.2,-1.6 L-0.6,0.6" stroke-width="2.0"/>
<path d="M0.6,-1.5 L-2.0,-1.9 L-3.4,-2.9" stroke-width="0.95"/>
<path d="M1.0,-1.2 L2.8,0.1 L4.0,-0.3" stroke-width="0.95"/>
<path d="M-0.4,0.5 L1.7,1.3 L3.4,2.9" stroke-width="1.15"/>
<path d="M-0.8,0.6 L-2.2,2.2 L-4.0,2.3" stroke-width="1.15"/>
</g>
</g>
<g>
<rect x="538" y="203.25" width="12.4" height="26.2" fill="#0c9640"/>
<rect x="539.7" y="205.15" width="9" height="3.8" fill="#fff"/>
<path d="M544.2,219.65 V212.65" stroke="#fff" stroke-width="1.1" fill="none"/>
<path d="M544.2,211.45 l-1.5,2.3 h3z" fill="#fff"/>
<g transform="translate(544.2,224.05) scale(-0.92,0.92) rotate(-10)" fill="none" stroke="#fff" stroke-linecap="round" stroke-linejoin="round">
<circle cx="2.2" cy="-2.7" r="1.1" fill="#fff" stroke="none"/>
<path d="M1.2,-1.6 L-0.6,0.6" stroke-width="2.0"/>
<path d="M0.6,-1.5 L-2.0,-1.9 L-3.4,-2.9" stroke-width="0.95"/>
<path d="M1.0,-1.2 L2.8,0.1 L4.0,-0.3" stroke-width="0.95"/>
<path d="M-0.4,0.5 L1.7,1.3 L3.4,2.9" stroke-width="1.15"/>
<path d="M-0.8,0.6 L-2.2,2.2 L-4.0,2.3" stroke-width="1.15"/>
</g>
</g>
<g>
<rect x="527.8" y="104.8" width="13" height="26.6" fill="#0c9640"/>
<rect x="529.5" y="125.7" width="9.6" height="3.8" fill="#fff"/>
<path d="M534.3,115 V122" stroke="#fff" stroke-width="1.1" fill="none"/>
<path d="M534.3,123.2 l-1.5,-2.3 h3z" fill="#fff"/>
<g transform="translate(534.3,110.4) scale(-0.92,0.92) rotate(-10)" fill="none" stroke="#fff" stroke-linecap="round" stroke-linejoin="round">
<circle cx="2.2" cy="-2.7" r="1.1" fill="#fff" stroke="none"/>
<path d="M1.2,-1.6 L-0.6,0.6" stroke-width="2.0"/>
<path d="M0.6,-1.5 L-2.0,-1.9 L-3.4,-2.9" stroke-width="0.95"/>
<path d="M1.0,-1.2 L2.8,0.1 L4.0,-0.3" stroke-width="0.95"/>
<path d="M-0.4,0.5 L1.7,1.3 L3.4,2.9" stroke-width="1.15"/>
<path d="M-0.8,0.6 L-2.2,2.2 L-4.0,2.3" stroke-width="1.15"/>
</g>
</g>
<rect x="110" y="157.5" width="29.2" height="15.4" fill="#0c9640"/>
<text x="111.6" y="162.5" font-size="4.7" textLength="26" lengthAdjust="spacingAndGlyphs" class="sb">ЗАПАСНЫЙ</text>
<text x="111.1" y="171.2" font-size="10.5" textLength="27" lengthAdjust="spacingAndGlyphs" class="sb">ВЫХОД</text>
<rect x="150" y="168.4" width="29.2" height="15.4" fill="#0c9640"/>
<text x="151.6" y="173.4" font-size="4.7" textLength="26" lengthAdjust="spacingAndGlyphs" class="sb">ЗАПАСНЫЙ</text>
<text x="151.1" y="182.1" font-size="10.5" textLength="27" lengthAdjust="spacingAndGlyphs" class="sb">ВЫХОД</text>
<rect x="460.75" y="157.5" width="29.2" height="15.4" fill="#0c9640"/>
<text x="462.35" y="162.5" font-size="4.7" textLength="26" lengthAdjust="spacingAndGlyphs" class="sb">ЗАПАСНЫЙ</text>
<text x="461.85" y="171.2" font-size="10.5" textLength="27" lengthAdjust="spacingAndGlyphs" class="sb">ВЫХОД</text>
<rect x="423.25" y="168.4" width="29.2" height="15.4" fill="#0c9640"/>
<text x="424.85" y="173.4" font-size="4.7" textLength="26" lengthAdjust="spacingAndGlyphs" class="sb">ЗАПАСНЫЙ</text>
<text x="424.35" y="182.1" font-size="10.5" textLength="27" lengthAdjust="spacingAndGlyphs" class="sb">ВЫХОД</text>
<rect x="289.8" y="109.3" width="29.4" height="15.7" fill="#0c9640"/>
<text x="291.1" y="121.4" font-size="11.2" textLength="26.8" lengthAdjust="spacingAndGlyphs" class="sb">ВЫХОД</text>
<rect x="138" y="274.25" width="14.25" height="14.5" fill="#e6131a"/>
<g fill="#fff" opacity="0.85">
<rect x="140.2" y="277.25" width="5.4" height="5.6" fill="#fff"/>
<rect x="140.2" y="277.25" width="0.8" height="9" fill="#fff"/>
<rect x="146.2" y="279.25" width="3.4" height="1.3" fill="#fff"/>
<circle cx="149.2" cy="279.95" r="1.1"/>
</g>
<g stroke="#e6131a" stroke-width="0.35" opacity="0.7">
<path d="M140.2,278.35 h5.4"/>
<path d="M140.2,279.45 h5.4"/>
<path d="M140.2,280.55 h5.4"/>
<path d="M140.2,281.65 h5.4"/>
</g>
<rect x="153.5" y="274.25" width="14.25" height="14.5" fill="#e6131a"/>
<path d="M158.93,279.05 h3.4 v7.8 h-3.4z M159.82,276.65 h1.6 v1.3 h-1.6z M158.93,279.05 l1.7,-1.2 l1.7,1.2z" fill="#fff"/>
<rect x="445" y="274.25" width="14.25" height="14.5" fill="#e6131a"/>
<g fill="#fff" opacity="0.85">
<rect x="447.2" y="277.25" width="5.4" height="5.6" fill="#fff"/>
<rect x="447.2" y="277.25" width="0.8" height="9" fill="#fff"/>
<rect x="453.2" y="279.25" width="3.4" height="1.3" fill="#fff"/>
<circle cx="456.2" cy="279.95" r="1.1"/>
</g>
<g stroke="#e6131a" stroke-width="0.35" opacity="0.7">
<path d="M447.2,278.35 h5.4"/>
<path d="M447.2,279.45 h5.4"/>
<path d="M447.2,280.55 h5.4"/>
<path d="M447.2,281.65 h5.4"/>
</g>
<rect x="460.6" y="274.25" width="14.25" height="14.5" fill="#e6131a"/>
<path d="M466.03,279.05 h3.4 v7.8 h-3.4z M466.93,276.65 h1.6 v1.3 h-1.6z M466.03,279.05 l1.7,-1.2 l1.7,1.2z" fill="#fff"/>
<path d="M195.95,277.6 L202,288.7 L189.9,288.7 Z" fill="#ffe600" stroke="#2a1d00" stroke-width="1.0" stroke-linejoin="round"/>
<path d="M196.55,280.6 l-1.9,3.0 l1.5,0 l-1.5,3.2 l3.0,-4.0 l-1.5,0 l1.4,-2.2z" fill="#222"/>
<path d="M395.95,277.6 L402,288.7 L389.9,288.7 Z" fill="#ffe600" stroke="#2a1d00" stroke-width="1.0" stroke-linejoin="round"/>
<path d="M396.55,280.6 l-1.9,3.0 l1.5,0 l-1.5,3.2 l3.0,-4.0 l-1.5,0 l1.4,-2.2z" fill="#222"/>
<text x="202.6" y="288.9" font-size="8.4" textLength="17.6" lengthAdjust="spacingAndGlyphs" class="ss" fill="#2e2e2e" stroke="#2e2e2e" stroke-width="0.7">ЩРО 1-1</text>
<text x="406.2" y="288.9" font-size="8.4" textLength="17.4" lengthAdjust="spacingAndGlyphs" class="ss" fill="#2e2e2e" stroke="#2e2e2e" stroke-width="0.7">ЩРО 1-2</text>
</g>
<g id="instr">
<rect x="594.6" y="90.3" width="187.8" height="306.7" fill="#fff" stroke="#6e6e6e" stroke-width="0.7"/>
<path d="M594.6,111.3 H782.4" stroke="#6e6e6e" stroke-width="0.7" fill="none"/>
<path d="M594.6,128.3 H782.4" stroke="#6e6e6e" stroke-width="0.7" fill="none"/>
<path d="M594.6,179.2 H782.4" stroke="#6e6e6e" stroke-width="0.7" fill="none"/>
<path d="M594.6,255 H782.4" stroke="#6e6e6e" stroke-width="0.7" fill="none"/>
<path d="M594.6,309 H782.4" stroke="#6e6e6e" stroke-width="0.7" fill="none"/>
<path d="M641.2,111.3 V397" stroke="#3a3a3a" stroke-width="0.8" fill="none"/>
<path d="M740.4,111.3 V397" stroke="#3a3a3a" stroke-width="0.8" fill="none"/>
<rect x="594.7" y="409.3" width="188" height="106.6" fill="#fff" stroke="#6e6e6e" stroke-width="0.7"/>
<text x="688.5" y="97.5" font-size="4.9" text-anchor="middle" fill="#505050" textLength="35.5" lengthAdjust="spacingAndGlyphs">ИНСТРУКЦИЯ</text>
<text x="688.5" y="102.8" font-size="4.9" text-anchor="middle" fill="#505050" textLength="168" lengthAdjust="spacingAndGlyphs">К ПЛАНУ ЭВАКУАЦИИ ЛЮДЕЙ И МАТЕРИАЛЬНЫХ ЦЕННОСТЕЙ В</text>
<text x="688.5" y="108" font-size="4.9" text-anchor="middle" fill="#505050" textLength="45" lengthAdjust="spacingAndGlyphs">СЛУЧАЕ ПОЖАРА</text>
<text x="618" y="119.7" font-size="4.9" text-anchor="middle" fill="#505050" textLength="42.8" lengthAdjust="spacingAndGlyphs">ПРИНИМАЕМЫЕ</text>
<text x="618" y="124.6" font-size="4.9" text-anchor="middle" fill="#505050" textLength="16" lengthAdjust="spacingAndGlyphs">МЕРЫ</text>
<text x="690.5" y="121.9" font-size="4.9" text-anchor="middle" fill="#505050" textLength="55" lengthAdjust="spacingAndGlyphs">ПОРЯДОК ДЕЙСТВИЙ</text>
<text x="761.4" y="121.9" font-size="4.9" text-anchor="middle" fill="#505050" textLength="38.6" lengthAdjust="spacingAndGlyphs">ИСПОЛНИТЕЛИ</text>
<text transform="translate(642.4,134.9) scale(1.09,1)" font-size="4.75" fill="#505050" textLength="89.17" lengthAdjust="spacing">При обнаружении пожара немедленно</text>
<text transform="translate(642.4,140.09) scale(1.09,1)" font-size="4.75" fill="#505050" textLength="89.17" lengthAdjust="spacing">сообщить в городскую пожарную охрану по</text>
<text transform="translate(642.4,145.28) scale(1.09,1)" font-size="4.75" fill="#505050" textLength="89.17" lengthAdjust="spacing">телефону "01", указав точный адрес</text>
<text transform="translate(642.4,150.47) scale(1.09,1)" font-size="4.75" fill="#505050" textLength="89.17" lengthAdjust="spacing">объекта, что горит, свою фамилию и номер</text>
<text transform="translate(642.4,155.66) scale(1.09,1)" font-size="4.75" fill="#505050" textLength="89.17" lengthAdjust="spacing">телефона с которого передается</text>
<text transform="translate(642.4,160.85) scale(1.09,1)" font-size="4.75" fill="#505050" textLength="89.17" lengthAdjust="spacing">сообщение. Принять меры к экстренной</text>
<text transform="translate(642.4,166.04) scale(1.09,1)" font-size="4.75" fill="#505050" textLength="89.17" lengthAdjust="spacing">передаче информации о пожаре</text>
<text transform="translate(642.4,171.23) scale(1.09,1)" font-size="4.75" fill="#505050" textLength="89.17" lengthAdjust="spacing">руководству объекта и в службу</text>
<text transform="translate(642.4,176.42) scale(1.09,1)" font-size="4.75" fill="#505050">безопасности.</text>
<text transform="translate(642.4,186.8) scale(1.09,1)" font-size="4.75" fill="#505050" textLength="89.17" lengthAdjust="spacing">При наличии угрозы людям от воздействия</text>
<text transform="translate(642.4,191.99) scale(1.09,1)" font-size="4.75" fill="#505050" textLength="89.17" lengthAdjust="spacing">открытого пламени, высокой температуры</text>
<text transform="translate(642.4,197.18) scale(1.09,1)" font-size="4.75" fill="#505050" textLength="89.17" lengthAdjust="spacing">или сильного задымления, прекратить все</text>
<text transform="translate(642.4,202.37) scale(1.09,1)" font-size="4.75" fill="#505050" textLength="89.17" lengthAdjust="spacing">работы и организовать эвакуацию людей,</text>
<text transform="translate(642.4,207.56) scale(1.09,1)" font-size="4.75" fill="#505050" textLength="89.17" lengthAdjust="spacing">материальных ценностей и документации в</text>
<text transform="translate(642.4,212.75) scale(1.09,1)" font-size="4.75" fill="#505050" textLength="89.17" lengthAdjust="spacing">соответствии с настоящим планом,</text>
<text transform="translate(642.4,217.94) scale(1.09,1)" font-size="4.75" fill="#505050" textLength="89.17" lengthAdjust="spacing">используя основные и запасные</text>
<text transform="translate(642.4,223.13) scale(1.09,1)" font-size="4.75" fill="#505050" textLength="89.17" lengthAdjust="spacing">эвакуационные выходы и ориентируясь по</text>
<text transform="translate(642.4,228.32) scale(1.09,1)" font-size="4.75" fill="#505050" textLength="89.17" lengthAdjust="spacing">предупреждающим и указательным знакам</text>
<text transform="translate(642.4,233.51) scale(1.09,1)" font-size="4.75" fill="#505050" textLength="89.17" lengthAdjust="spacing">безопасности. При необходимости вызвать</text>
<text transform="translate(642.4,238.7) scale(1.09,1)" font-size="4.75" fill="#505050" textLength="89.17" lengthAdjust="spacing">аварийную, медицинскую, милицейскую</text>
<text transform="translate(642.4,243.89) scale(1.09,1)" font-size="4.75" fill="#505050" textLength="89.17" lengthAdjust="spacing">службы и обеспечить охрану материальных</text>
<text transform="translate(642.4,249.08) scale(1.09,1)" font-size="4.75" fill="#505050">ценностей и документов.</text>
<text transform="translate(642.4,263.2) scale(1.09,1)" font-size="4.75" fill="#505050" textLength="89.17" lengthAdjust="spacing">Предотвращение распространения и</text>
<text transform="translate(642.4,268.39) scale(1.09,1)" font-size="4.75" fill="#505050" textLength="89.17" lengthAdjust="spacing">тушение пожара в начальной стадии</text>
<text transform="translate(642.4,273.58) scale(1.09,1)" font-size="4.75" fill="#505050" textLength="89.17" lengthAdjust="spacing">производится немедленно с момента его</text>
<text transform="translate(642.4,278.77) scale(1.09,1)" font-size="4.75" fill="#505050" textLength="89.17" lengthAdjust="spacing">обнаружения с использованием имеющихся</text>
<text transform="translate(642.4,283.96) scale(1.09,1)" font-size="4.75" fill="#505050" textLength="89.17" lengthAdjust="spacing">первичных средств пожаротушения</text>
<text transform="translate(642.4,289.15) scale(1.09,1)" font-size="4.75" fill="#505050" textLength="89.17" lengthAdjust="spacing">(порошковые, углекислотные</text>
<text transform="translate(642.4,294.34) scale(1.09,1)" font-size="4.75" fill="#505050" textLength="89.17" lengthAdjust="spacing">огнетушители, внутренние пожарные</text>
<text transform="translate(642.4,299.53) scale(1.09,1)" font-size="4.75" fill="#505050" textLength="89.17" lengthAdjust="spacing">краны) и соблюдением при этом</text>
<text transform="translate(642.4,304.72) scale(1.09,1)" font-size="4.75" fill="#505050">необходимых мер личной безопасности.</text>
<text transform="translate(642.4,314.9) scale(1.09,1)" font-size="4.75" fill="#505050" textLength="89.17" lengthAdjust="spacing">По прибытии на объект подразделения</text>
<text transform="translate(642.4,320.09) scale(1.09,1)" font-size="4.75" fill="#505050" textLength="89.17" lengthAdjust="spacing">городской пожарной охраны, проводить</text>
<text transform="translate(618,152.8) scale(1.09,1)" font-size="4.8" text-anchor="middle" fill="#505050">Вызов городской</text>
<text transform="translate(618,157.99) scale(1.09,1)" font-size="4.8" text-anchor="middle" fill="#505050">пожарной охраны</text>
<text transform="translate(618,213.5) scale(1.09,1)" font-size="4.8" text-anchor="middle" fill="#505050">Эвакуация людей и</text>
<text transform="translate(618,218.69) scale(1.09,1)" font-size="4.8" text-anchor="middle" fill="#505050">материальных</text>
<text transform="translate(618,223.88) scale(1.09,1)" font-size="4.8" text-anchor="middle" fill="#505050">ценностей</text>
<text transform="translate(618,278.8) scale(1.09,1)" font-size="4.8" text-anchor="middle" fill="#505050">Предотвращение</text>
<text transform="translate(618,283.99) scale(1.09,1)" font-size="4.8" text-anchor="middle" fill="#505050">распространения и</text>
<text transform="translate(618,289.18) scale(1.09,1)" font-size="4.8" text-anchor="middle" fill="#505050">тушение пожара</text>
<text transform="translate(761.4,150.2) scale(1.09,1)" font-size="4.8" text-anchor="middle" fill="#505050">Первый</text>
<text transform="translate(761.4,155.39) scale(1.09,1)" font-size="4.8" text-anchor="middle" fill="#505050">обнаруживший</text>
<text transform="translate(761.4,160.58) scale(1.09,1)" font-size="4.8" text-anchor="middle" fill="#505050">пожар</text>
<text transform="translate(761.4,211.2) scale(1.09,1)" font-size="4.8" text-anchor="middle" fill="#505050">Администрация,</text>
<text transform="translate(761.4,216.39) scale(1.09,1)" font-size="4.8" text-anchor="middle" fill="#505050">работники и</text>
<text transform="translate(761.4,221.58) scale(1.09,1)" font-size="4.8" text-anchor="middle" fill="#505050">дежурный</text>
<text transform="translate(761.4,226.77) scale(1.09,1)" font-size="4.8" text-anchor="middle" fill="#505050">персонал</text>
<text transform="translate(761.4,278.5) scale(1.09,1)" font-size="4.8" text-anchor="middle" fill="#505050">Дежурный</text>
<text transform="translate(761.4,283.69) scale(1.09,1)" font-size="4.8" text-anchor="middle" fill="#505050">персонал,</text>
<text transform="translate(761.4,288.88) scale(1.09,1)" font-size="4.8" text-anchor="middle" fill="#505050">сотрудники ЧОП</text>
</g>
<g id="floppy">
<path d="M597.3,335.2 L607.4,325.2 H631.6 L634.4,329.8 H742 V325.6 L758,325.1 H785.9 V519.5 Q785.9,521.2 784.2,521.2 H599 Q597.3,521.2 597.3,519.5 Z" fill="#000"/>
<path d="M639.5,329.8 V388 Q639.5,391.2 642.7,391.2 H765.3 Q768.5,391.2 768.5,388 V325.2" fill="none" stroke="#fff" stroke-width="0.8"/>
<path d="M640.9,323.3 H742.1 V386 Q742.1,389.3 738.8,389.3 H644.2 Q640.9,389.3 640.9,386 Z" fill="#fff" stroke="#000" stroke-width="0.6"/>
<path d="M655.3,334.5 H664.1 V330 L666,332 H671 L672.9,330 V334.5 H681.1 V386.6 H655.3 Z" fill="#000"/>
<path d="M728.9,328.8 L730.6,330.6 H736 L737.7,328.8 V334.7 H728.9 Z" fill="#000"/>
<rect x="742.8" y="329.5" width="23.2" height="3.3" rx="1.4" fill="#8f8f8f"/>
<path d="M597.3,339.4 A5.55,5.55 0 0 1 597.3,350.5" fill="none" stroke="#fff" stroke-width="0.85"/>
<ellipse cx="607.5" cy="361.3" rx="5.2" ry="3.85" fill="none" stroke="#fff" stroke-width="0.85"/>
<path d="M785.9,338.4 A5.6,5.6 0 0 0 785.9,349.6" fill="none" stroke="#fff" stroke-width="0.85"/>
<circle cx="776.4" cy="360.3" r="4.25" fill="none" stroke="#fff" stroke-width="0.85"/>
<circle cx="692.5" cy="426.2" r="28.2" fill="none" stroke="#fff" stroke-width="0.95"/>
<circle cx="692.5" cy="426.2" r="24.9" fill="#fff"/>
<rect x="-8.1" y="-4.7" width="16.2" height="9.4" rx="2" fill="#000" transform="translate(690.4,409.4) rotate(-20)"/>
<rect x="685.7" y="420.7" width="9.3" height="8.6" rx="1.9" fill="#000"/>
<path d="M615.6,521.2 V497 Q615.6,493 619.6,493 H764.9 Q768.9,493 768.9,497 V521.2" fill="none" stroke="#fff" stroke-width="1"/>
<rect x="722.6" y="484.9" width="43" height="5.7" rx="2.85" fill="none" stroke="#fff" stroke-width="1"/>
<rect x="602.6" y="500.2" width="9.7" height="7.2" fill="#fff"/>
<path d="M770.4,499.4 Q770.4,498.5 771.3,498.5 H774.3 L776.9,496.3 L779.5,498.5 H782.5 Q783.4,498.5 783.4,499.4 V518.2 Q783.4,519.1 782.5,519.1 H779.2 L776.9,520.6 L774.6,519.1 H771.3 Q770.4,519.1 770.4,518.2 Z M772.3,500.4 H781.5 V507.2 H772.3 Z" fill="none" stroke="#fff" stroke-width="0.9"/>
</g>
<g id="bottom">
<rect x="16.8" y="410" width="189" height="50.8" fill="#fff" stroke="#f08058" stroke-width="1.25"/>
<rect x="16.8" y="464.6" width="189" height="51" fill="#fff" stroke="#f08058" stroke-width="1.25"/>
<rect x="209.6" y="410" width="188" height="105.6" fill="#fff" stroke="#f08058" stroke-width="1.25"/>
<rect x="402" y="410" width="188.6" height="105.6" fill="#fff" stroke="#f08058" stroke-width="1.25"/>
<text x="112.6" y="427.2" font-size="10.5" text-anchor="middle" fill="#e8502a" stroke="#e8502a" stroke-width="0.14" textLength="69.4" lengthAdjust="spacingAndGlyphs">ВНИМАНИЕ!</text>
<text x="112.2" y="438.8" font-size="10.5" text-anchor="middle" fill="#e8502a" stroke="#e8502a" stroke-width="0.14" textLength="135.8" lengthAdjust="spacingAndGlyphs">Сориентируйтесь на плане.</text>
<text x="111.9" y="450.4" font-size="10.5" text-anchor="middle" fill="#e8502a" stroke="#e8502a" stroke-width="0.14" textLength="178.8" lengthAdjust="spacingAndGlyphs">Определите свое место  нахождения</text>
<text x="25.6" y="494" font-size="10.6" text-anchor="start" fill="#e8502a" stroke="#e8502a" stroke-width="0.14" textLength="117.4" lengthAdjust="spacingAndGlyphs">О ПОЖАРЕ ЗВОНИТЬ</text>
<text x="154.2" y="507.6" font-size="52.5" text-anchor="start" fill="#e10600" stroke="#e10600" stroke-width="0.14" textLength="23.6" lengthAdjust="spacingAndGlyphs">0</text>
<text x="181.6" y="507.6" font-size="52.5" text-anchor="start" fill="#e10600" stroke="#e10600" stroke-width="0.14" textLength="21.6" lengthAdjust="spacingAndGlyphs">1</text>
<text x="303.6" y="421.1" font-size="11.2" text-anchor="middle" fill="#e8502a" stroke="#e8502a" stroke-width="0.14" textLength="106.8" lengthAdjust="spacingAndGlyphs">Действия при пожаре</text>
<text x="303.6" y="432.1" font-size="11.2" text-anchor="middle" fill="#e8502a" stroke="#e8502a" stroke-width="0.14" textLength="120" lengthAdjust="spacingAndGlyphs">сохраняйте спокойствие!</text>
<path d="M214.5,435.8 H393.8" stroke="#666" stroke-width="1" fill="none"/>
<path d="M214.5,463.8 H393.8" stroke="#666" stroke-width="1" fill="none"/>
<path d="M214.5,490.6 H393.8" stroke="#666" stroke-width="1" fill="none"/>
<text transform="translate(221.6,456.4) scale(1.1,1)" font-size="19.2" text-anchor="middle" fill="#2a2a2a">1</text>
<text transform="translate(221.6,485.2) scale(1.1,1)" font-size="19.2" text-anchor="middle" fill="#2a2a2a">2</text>
<text transform="translate(221.6,510.2) scale(1.1,1)" font-size="19.2" text-anchor="middle" fill="#2a2a2a">3</text>
<text x="496" y="421.1" font-size="11.2" text-anchor="middle" fill="#e8502a" stroke="#e8502a" stroke-width="0.14" textLength="105" lengthAdjust="spacingAndGlyphs">Действия при аварии</text>
<text x="496" y="432.1" font-size="11.2" text-anchor="middle" fill="#e8502a" stroke="#e8502a" stroke-width="0.14" textLength="120.5" lengthAdjust="spacingAndGlyphs">сохраняйте спокойствие!</text>
<path d="M407,435.8 H585.6" stroke="#666" stroke-width="1" fill="none"/>
<path d="M407,463.8 H585.6" stroke="#666" stroke-width="1" fill="none"/>
<path d="M407,490.6 H585.6" stroke="#666" stroke-width="1" fill="none"/>
<text transform="translate(417.6,456.4) scale(1.1,1)" font-size="19.2" text-anchor="middle" fill="#2a2a2a">1</text>
<text transform="translate(417.6,485.2) scale(1.1,1)" font-size="19.2" text-anchor="middle" fill="#2a2a2a">2</text>
<text transform="translate(417.6,510.2) scale(1.1,1)" font-size="19.2" text-anchor="middle" fill="#2a2a2a">3</text>
<text transform="translate(257,444.6) scale(1.09,1)" font-size="5.7" text-anchor="middle" fill="#666">Сообщить</text>
<text transform="translate(257,451) scale(1.09,1)" font-size="5.7" text-anchor="middle" fill="#666">по телефону:</text>
<text transform="translate(257,457.2) scale(1.09,1)" font-size="5.7" text-anchor="middle" fill="#e8502a">01</text>
<text transform="translate(257,476.6) scale(1.09,1)" font-size="5.7" text-anchor="middle" fill="#666">Эвакуировать</text>
<text transform="translate(257,482.9) scale(1.09,1)" font-size="5.7" text-anchor="middle" fill="#666">людей</text>
<text transform="translate(257,496.9) scale(1.09,1)" font-size="5.05" text-anchor="middle" fill="#666">По возможности</text>
<text transform="translate(257,502.1) scale(1.09,1)" font-size="5.05" text-anchor="middle" fill="#666">принять меры</text>
<text transform="translate(257,507.3) scale(1.09,1)" font-size="5.05" text-anchor="middle" fill="#666">по тушению</text>
<text transform="translate(257,512.5) scale(1.09,1)" font-size="5.05" text-anchor="middle" fill="#666">пожара</text>
<text transform="translate(454.5,444.6) scale(1.09,1)" font-size="5.7" text-anchor="middle" fill="#666">Сообщить</text>
<text transform="translate(454.5,451) scale(1.09,1)" font-size="5.7" text-anchor="middle" fill="#666">по телефону:</text>
<text transform="translate(454.5,457.2) scale(1.09,1)" font-size="5.7" text-anchor="middle" fill="#e8502a">01</text>
<text transform="translate(454.5,475.9) scale(1.09,1)" font-size="5.7" text-anchor="middle" fill="#666">Локализовать</text>
<text transform="translate(454.5,482.2) scale(1.09,1)" font-size="5.7" text-anchor="middle" fill="#666">аварию</text>
<text transform="translate(454.5,500.9) scale(1.09,1)" font-size="5.7" text-anchor="middle" fill="#666">Эвакуировать</text>
<text transform="translate(454.5,507.2) scale(1.09,1)" font-size="5.7" text-anchor="middle" fill="#666">людей</text>
<text transform="translate(344.5,443.1) scale(1.09,1)" font-size="4.5" fill="#666">· адрес объекта</text>
<text transform="translate(344.5,447.9) scale(1.09,1)" font-size="4.5" fill="#666">· место возникновения</text>
<text transform="translate(346.98,452.7) scale(1.09,1)" font-size="4.5" fill="#666">пожара</text>
<text transform="translate(344.5,457.5) scale(1.09,1)" font-size="4.5" fill="#666">· свою фамилию</text>
<text transform="translate(344.5,468.8) scale(1.09,1)" font-size="4.5" fill="#666">· ориентироваться по</text>
<text transform="translate(346.98,473.52) scale(1.09,1)" font-size="4.5" fill="#666">знакам направления</text>
<text transform="translate(346.98,478.24) scale(1.09,1)" font-size="4.5" fill="#666">движения</text>
<text transform="translate(344.5,482.96) scale(1.09,1)" font-size="4.5" fill="#666">· взять с собой</text>
<text transform="translate(346.98,487.68) scale(1.09,1)" font-size="4.5" fill="#666">пострадавших</text>
<text transform="translate(344.5,495.2) scale(1.09,1)" font-size="4.5" fill="#666">· использовать средства</text>
<text transform="translate(346.98,499.7) scale(1.09,1)" font-size="4.5" fill="#666">противопожарной</text>
<text transform="translate(346.98,504.2) scale(1.09,1)" font-size="4.5" fill="#666">защиты</text>
<text transform="translate(344.5,508.7) scale(1.09,1)" font-size="4.5" fill="#666">· при необходимости</text>
<text transform="translate(346.98,513.2) scale(1.09,1)" font-size="4.5" fill="#666">обесточить помещение</text>
<text transform="translate(537,444.3) scale(1.09,1)" font-size="4.5" fill="#666">· адрес объекта</text>
<text transform="translate(537,449.02) scale(1.09,1)" font-size="4.5" fill="#666">· что случилось</text>
<text transform="translate(537,453.74) scale(1.09,1)" font-size="4.5" fill="#666">· имеются ли</text>
<text transform="translate(539.48,458.46) scale(1.09,1)" font-size="4.5" fill="#666">пострадавшие</text>
<text transform="translate(537,468.6) scale(1.09,1)" font-size="4.1" fill="#666">· предотвратить развитие</text>
<text transform="translate(539.25,472.4) scale(1.09,1)" font-size="4.1" fill="#666">аварии</text>
<text transform="translate(537,476.2) scale(1.09,1)" font-size="4.1" fill="#666">· оказать помощь</text>
<text transform="translate(539.25,480) scale(1.09,1)" font-size="4.1" fill="#666">пострадавшим</text>
<text transform="translate(537,483.8) scale(1.09,1)" font-size="4.1" fill="#666">· использовать средства</text>
<text transform="translate(539.25,487.6) scale(1.09,1)" font-size="4.1" fill="#666">защиты</text>
<text transform="translate(537,495) scale(1.09,1)" font-size="4.5" fill="#666">· ориентироваться по</text>
<text transform="translate(539.48,499.75) scale(1.09,1)" font-size="4.5" fill="#666">знакам направления</text>
<text transform="translate(539.48,504.5) scale(1.09,1)" font-size="4.5" fill="#666">движения</text>
<text transform="translate(537,509.25) scale(1.09,1)" font-size="4.5" fill="#666">· взять с собой</text>
<text transform="translate(539.48,514) scale(1.09,1)" font-size="4.5" fill="#666">пострадавших</text>
<rect x="310.7" y="439" width="20.4" height="20.4" fill="#e6131a"/>
<g transform="translate(310.7,439) scale(1)">
<path d="M6.3,4.2 C3.6,8.6 7.2,14.6 13.6,16.4" fill="none" stroke="#fff" stroke-width="2.5" stroke-linecap="round"/>
<ellipse cx="6.9" cy="3.7" rx="3.0" ry="2.3" fill="#fff" transform="rotate(-28 6.9 3.7)"/>
<ellipse cx="14.0" cy="16.5" rx="3.0" ry="2.3" fill="#fff" transform="rotate(-28 14 16.5)"/>
<path d="M7.6,5.6 L9.3,3.3 M11.8,15.2 L13.5,13.6" stroke="#e6131a" stroke-width="0.45" fill="none" opacity="0.7"/>
</g>
<rect x="304.5" y="469.9" width="32.7" height="16.3" fill="#0c9640"/>
<rect x="305.3" y="470.7" width="31.1" height="14.7" fill="none" stroke="#fff" stroke-width="0.5" opacity="0.55"/>
<rect x="329" y="472.1" width="5.8" height="11.9" fill="#fff"/>
<g transform="translate(311.4,477.85) scale(1.3,1.3)" fill="none" stroke="#fff" stroke-linecap="round" stroke-linejoin="round">
<circle cx="1.5" cy="-3.6" r="1.05" fill="#fff" stroke="none"/>
<path d="M0.7,-2.3 L-0.5,0.6" stroke-width="1.9"/>
<path d="M0.3,-2.2 L-1.8,-1.7 L-2.7,-0.3" stroke-width="0.9"/>
<path d="M0.7,-2.0 L2.2,-0.9 L3.2,-1.6" stroke-width="0.9"/>
<path d="M-0.3,0.5 L1.5,1.7 L1.3,4.1" stroke-width="1.15"/>
<path d="M-0.7,0.6 L-1.6,2.6 L-3.3,3.5" stroke-width="1.15"/>
</g>
<path d="M318,478.05 H324.9" stroke="#fff" stroke-width="1.4" fill="none"/>
<path d="M327.1,478.05 l-3.0,-2.0 v4.0z" fill="#fff"/>
<rect x="310.7" y="493" width="20.4" height="20.4" fill="#e6131a"/>
<path d="M318.5,500.4 q0,-2.2 2.4,-2.2 q2.4,0 2.4,2.2 v9.4 q0,0.8 -0.8,0.8 h-3.2 q-0.8,0 -0.8,-0.8z M319.8,495.8 h2.2 v2.6 h-2.2z M321.9,496.6 l2.6,-1.0 v0.9 l-2.6,1.0z" fill="#fff"/>
<rect x="502" y="439.6" width="20.4" height="20.4" fill="#e6131a"/>
<g transform="translate(502,439.6) scale(1)">
<path d="M6.3,4.2 C3.6,8.6 7.2,14.6 13.6,16.4" fill="none" stroke="#fff" stroke-width="2.5" stroke-linecap="round"/>
<ellipse cx="6.9" cy="3.7" rx="3.0" ry="2.3" fill="#fff" transform="rotate(-28 6.9 3.7)"/>
<ellipse cx="14.0" cy="16.5" rx="3.0" ry="2.3" fill="#fff" transform="rotate(-28 14 16.5)"/>
<path d="M7.6,5.6 L9.3,3.3 M11.8,15.2 L13.5,13.6" stroke="#e6131a" stroke-width="0.45" fill="none" opacity="0.7"/>
</g>
<rect x="502" y="467" width="20.5" height="20.5" fill="#0c9640"/>
<path d="M509.85,469.85 h4.8 v5.0 h5.0 v4.8 h-5.0 v5.0 h-4.8 v-5.0 h-5.0 v-4.8 h5.0z" fill="#fff"/>
<rect x="496.2" y="495.2" width="32.7" height="16.3" fill="#0c9640"/>
<rect x="497" y="496" width="31.1" height="14.7" fill="none" stroke="#fff" stroke-width="0.5" opacity="0.55"/>
<rect x="520.7" y="497.4" width="5.8" height="11.9" fill="#fff"/>
<g transform="translate(503.1,503.15) scale(1.3,1.3)" fill="none" stroke="#fff" stroke-linecap="round" stroke-linejoin="round">
<circle cx="1.5" cy="-3.6" r="1.05" fill="#fff" stroke="none"/>
<path d="M0.7,-2.3 L-0.5,0.6" stroke-width="1.9"/>
<path d="M0.3,-2.2 L-1.8,-1.7 L-2.7,-0.3" stroke-width="0.9"/>
<path d="M0.7,-2.0 L2.2,-0.9 L3.2,-1.6" stroke-width="0.9"/>
<path d="M-0.3,0.5 L1.5,1.7 L1.3,4.1" stroke-width="1.15"/>
<path d="M-0.7,0.6 L-1.6,2.6 L-3.3,3.5" stroke-width="1.15"/>
</g>
<path d="M509.7,503.35 H516.6" stroke="#fff" stroke-width="1.4" fill="none"/>
<path d="M518.8,503.35 l-3.0,-2.0 v4.0z" fill="#fff"/>
</g>
</svg></body></html>
